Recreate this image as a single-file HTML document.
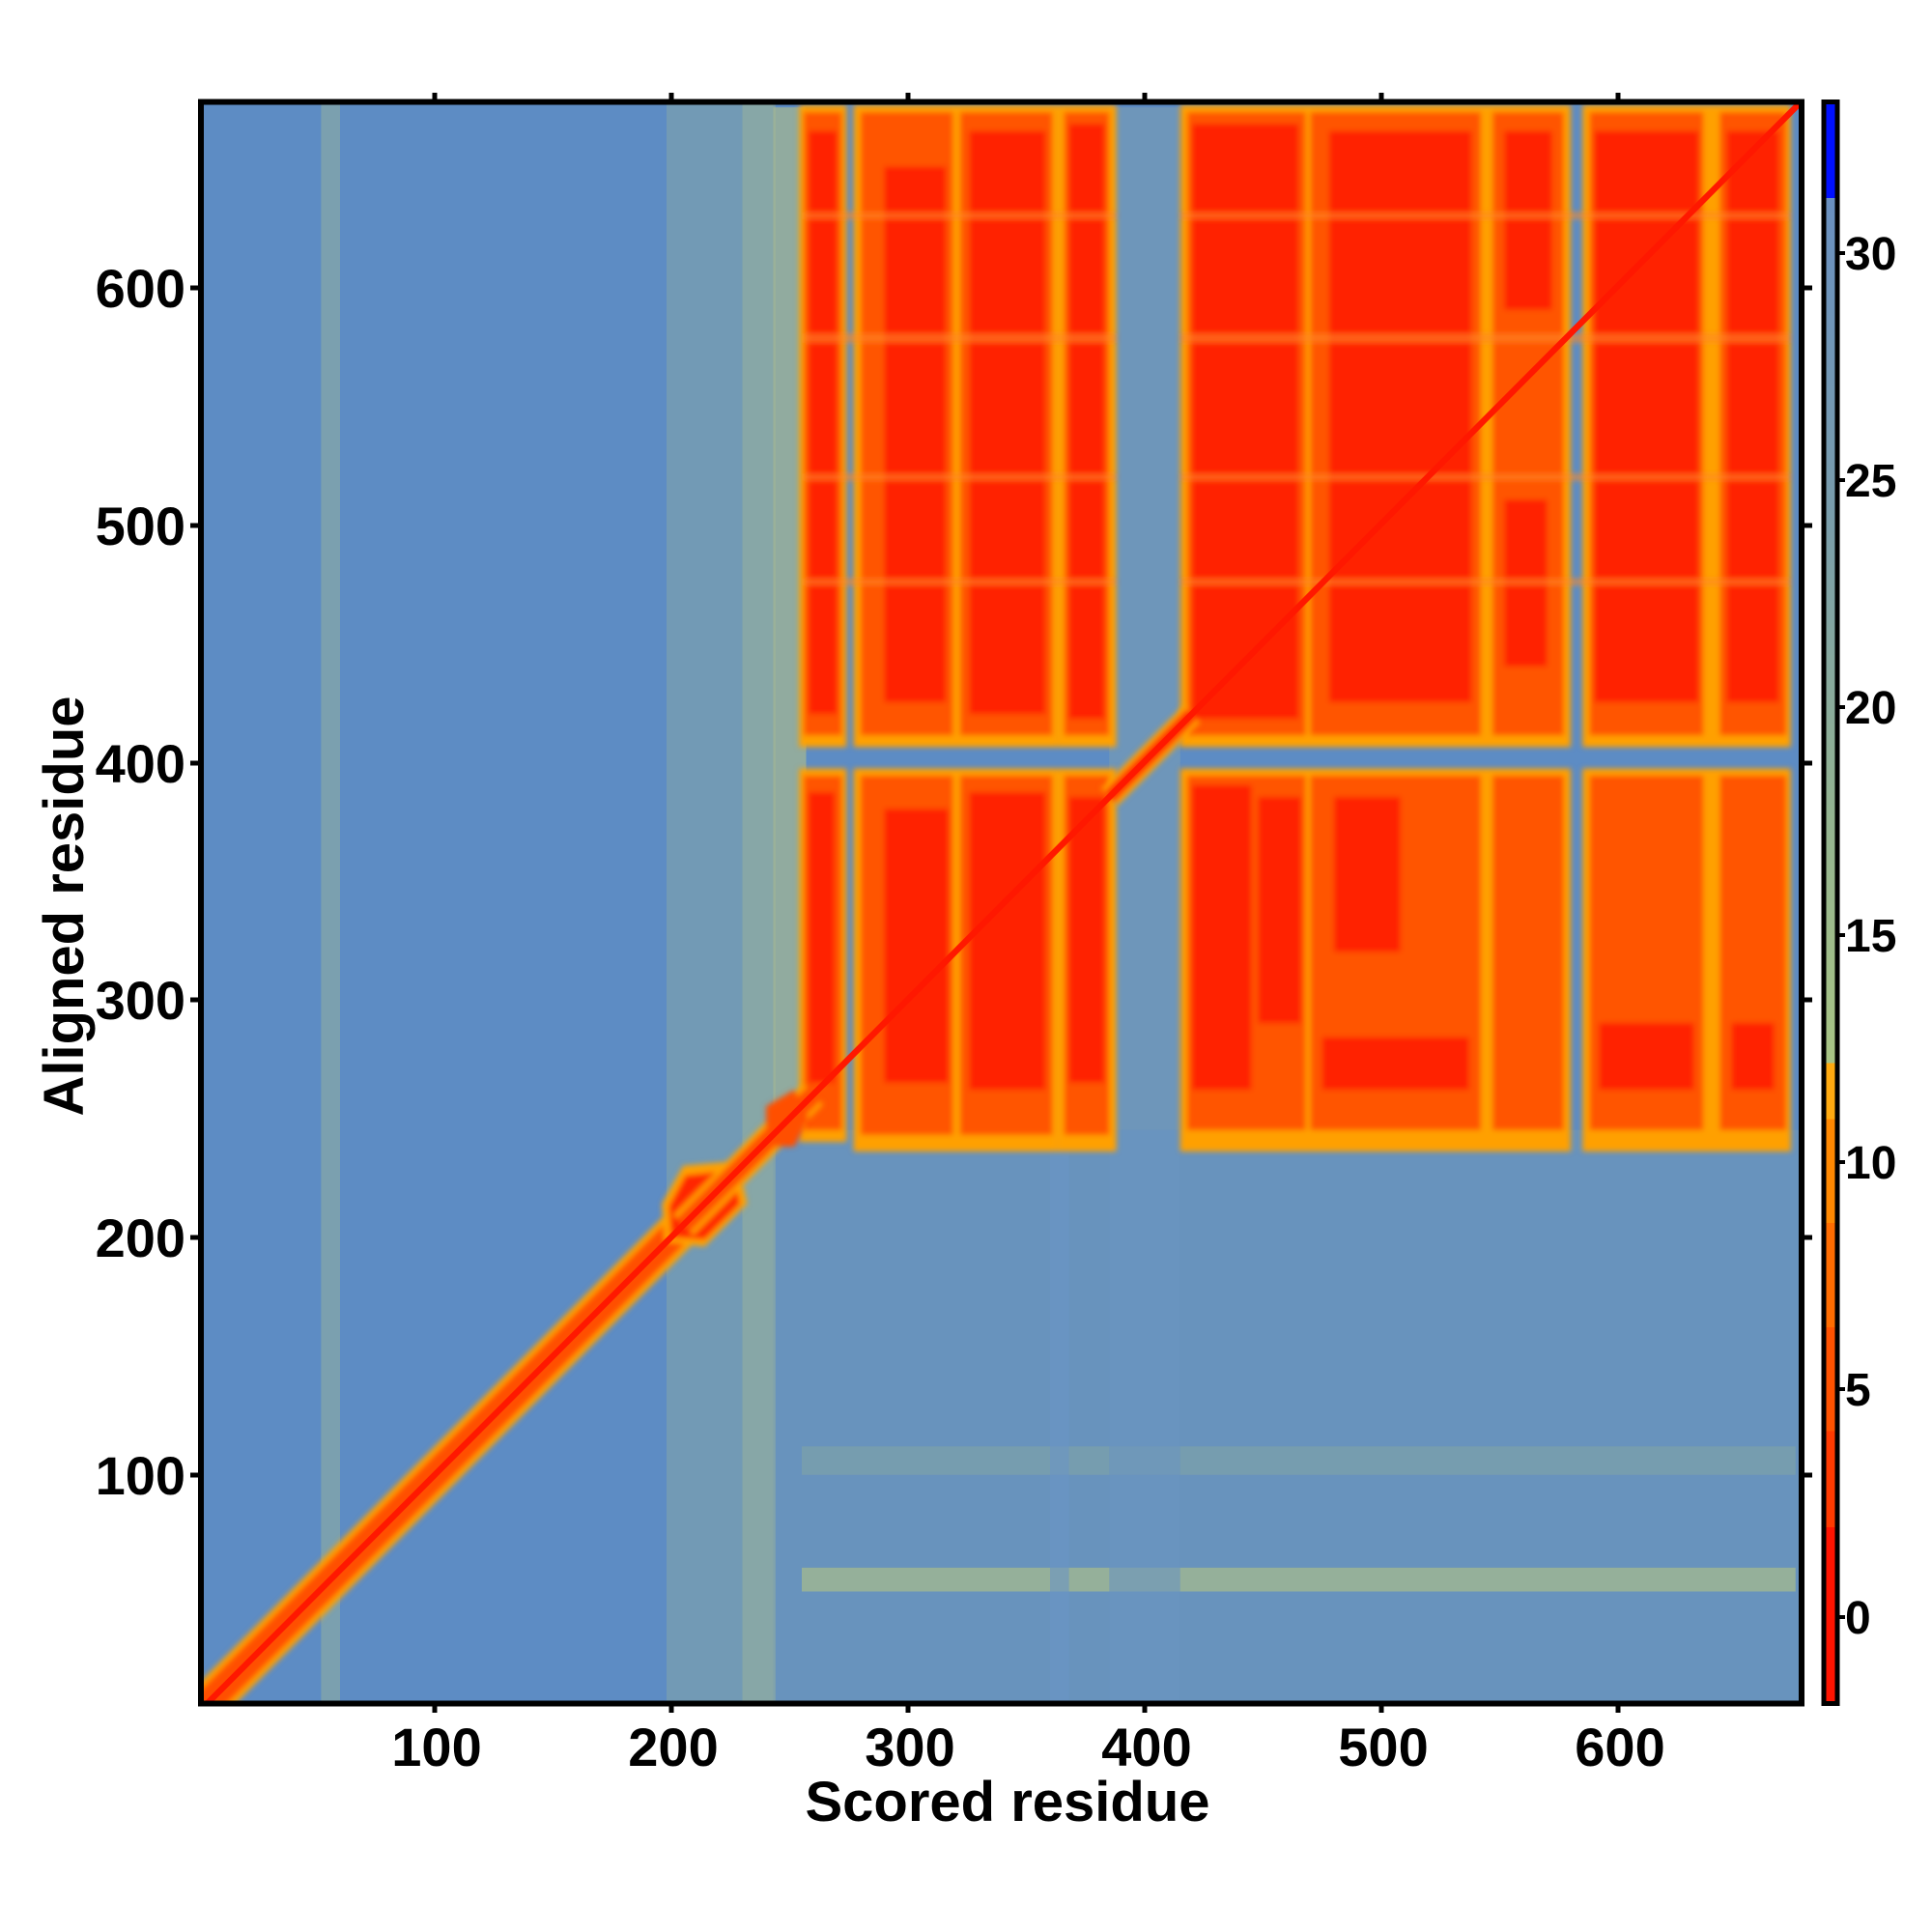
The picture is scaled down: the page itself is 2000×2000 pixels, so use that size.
<!DOCTYPE html>
<html><head><meta charset="utf-8"><style>
body{margin:0;background:#fff;}
svg{display:block;font-family:"Liberation Sans",sans-serif;font-weight:bold;}
</style></head><body>
<svg width="2000" height="2000" viewBox="0 0 2000 2000" xmlns="http://www.w3.org/2000/svg">
<defs>
<clipPath id="pc"><rect x="208" y="106" width="1657" height="1657"/></clipPath>
<linearGradient id="cb" x1="0" y1="1" x2="0" y2="0">
<stop offset="0" stop-color="#ff1400"/><stop offset="0.11" stop-color="#ff1400"/>
<stop offset="0.11" stop-color="#ff3a00"/><stop offset="0.17" stop-color="#ff3a00"/>
<stop offset="0.17" stop-color="#ff5200"/><stop offset="0.235" stop-color="#ff5200"/>
<stop offset="0.235" stop-color="#ff6c00"/><stop offset="0.30" stop-color="#ff6c00"/>
<stop offset="0.30" stop-color="#ff8800"/><stop offset="0.365" stop-color="#ff8800"/>
<stop offset="0.365" stop-color="#ffaa10"/><stop offset="0.40" stop-color="#ffaa10"/>
<stop offset="0.40" stop-color="#a8c484"/><stop offset="0.55" stop-color="#94b490"/>
<stop offset="0.75" stop-color="#789cac"/><stop offset="0.94" stop-color="#6a90c0"/>
<stop offset="0.94" stop-color="#0010ff"/><stop offset="1" stop-color="#0010ff"/>
</linearGradient>
<filter id="bl" x="-10%" y="-10%" width="120%" height="120%"><feGaussianBlur stdDeviation="1.2"/></filter>
</defs>

<g clip-path="url(#pc)">
<rect x="200" y="100" width="1670" height="1670" fill="#5d8cc4"/>
<g transform="translate(205,1773) scale(2.45,-2.462)">
 <g fill="#9ab49a" opacity="0.5">
  <rect x="52" y="0" width="8" height="680"/>
  <rect x="198" y="0" width="45" height="680" opacity="0.7"/>
  <rect x="243" y="0" width="440" height="245" fill="#7c9eb4" opacity="0.8"/>
 </g>
 <rect x="230" y="0" width="14" height="680" fill="#9cb49a" opacity="0.5"/>
 <rect x="243" y="245" width="14" height="430" fill="#a8b890" opacity="0.7"/>
 <rect x="255" y="51" width="420" height="10" fill="#a8bc8c" opacity="0.7"/>
 <rect x="255" y="100" width="420" height="12" fill="#8cac9c" opacity="0.4"/>
 <rect x="385" y="0" width="30" height="245" fill="#6a94c0" opacity="0.6"/>
 <rect x="360" y="0" width="8" height="245" fill="#6a94c4" opacity="0.6"/>
 <rect x="385" y="245" width="30" height="430" fill="#80a0b0" opacity="0.5"/>

 <g filter="url(#bl)">
  <g fill="#ffa000">
   <rect x="254" y="406" width="20" height="270"/><rect x="254" y="240" width="20" height="157"/>
   <rect x="277" y="406" width="86" height="270"/><rect x="277" y="236" width="86" height="161"/>
   <rect x="363" y="406" width="25" height="270"/><rect x="363" y="236" width="25" height="161"/>
   <rect x="415" y="406" width="165" height="270"/><rect x="415" y="236" width="165" height="161"/>
   <rect x="585" y="406" width="88" height="270"/><rect x="585" y="236" width="88" height="161"/>
  </g>
  <g fill="#ff5400">
   <rect x="256" y="411" width="16" height="262"/><rect x="256" y="245" width="16" height="149"/>
   <rect x="280" y="411" width="39" height="262"/><rect x="280" y="243" width="39" height="151"/>
   <rect x="322" y="411" width="39" height="262"/><rect x="322" y="243" width="39" height="151"/>
   <rect x="366" y="411" width="19" height="262"/><rect x="366" y="243" width="19" height="151"/>
   <rect x="418" y="411" width="50" height="262"/><rect x="418" y="245" width="50" height="149"/>
   <rect x="470" y="411" width="72" height="262"/><rect x="470" y="245" width="72" height="149"/>
   <rect x="547" y="411" width="30" height="262"/><rect x="547" y="245" width="30" height="149"/>
   <rect x="588" y="411" width="48" height="262"/><rect x="588" y="245" width="48" height="149"/>
   <rect x="643" y="411" width="28" height="262"/><rect x="643" y="245" width="28" height="149"/>
  </g>
  <g fill="#ff2200">
   <rect x="258" y="420" width="12" height="245"/><rect x="258" y="265" width="11" height="122"/>
   <rect x="290" y="425" width="26" height="225"/><rect x="290" y="265" width="27" height="115"/>
   <rect x="326" y="420" width="32" height="245"/>
   <rect x="326" y="262" width="32" height="125"/>
   <rect x="368" y="418" width="15" height="250"/><rect x="368" y="265" width="15" height="120"/>
   <rect x="420" y="418" width="45" height="250"/>
   <rect x="420" y="262" width="25" height="128"/><rect x="448" y="290" width="18" height="95"/>
   <rect x="478" y="425" width="60" height="240"/>
   <rect x="475" y="262" width="62" height="22"/><rect x="480" y="320" width="28" height="65"/>
   <rect x="552" y="590" width="20" height="75"/><rect x="552" y="440" width="18" height="70"/>
   <rect x="590" y="425" width="44" height="240"/>
   <rect x="592" y="262" width="40" height="28"/>
   <rect x="646" y="425" width="22" height="240"/><rect x="648" y="262" width="18" height="28"/>
  </g>
  <g fill="#ff8a20" opacity="0.6">
   <rect x="256" y="474" width="132" height="3"/><rect x="415" y="474" width="258" height="3"/>
   <rect x="256" y="518" width="132" height="3"/><rect x="415" y="518" width="258" height="3"/>
   <rect x="256" y="576" width="132" height="4"/><rect x="415" y="576" width="258" height="4"/>
   <rect x="256" y="628" width="132" height="3"/><rect x="415" y="628" width="258" height="3"/>
  </g>
 </g>

 <g filter="url(#bl)">
  <line x1="0" y1="0" x2="205" y2="205" stroke="#ffa000" stroke-width="17"/>
  <line x1="0" y1="0" x2="205" y2="205" stroke="#ff5000" stroke-width="12"/>
  <polygon points="197,198 214,196 232,214 228,232 205,230 196,214" fill="#ffa000"/>
  <polygon points="200,200 214,199 229,214 226,228 206,226 199,213" fill="#ff2800"/>
  <line x1="205" y1="205" x2="260" y2="260" stroke="#ffa000" stroke-width="12"/>
  <line x1="205" y1="205" x2="260" y2="260" stroke="#ff5000" stroke-width="8"/>
  <polygon points="240,238 252,238 258,250 252,262 240,255" fill="#ff5000"/>
  <line x1="385" y1="385" x2="420" y2="420" stroke="#ffa000" stroke-width="10"/>
  <line x1="385" y1="385" x2="420" y2="420" stroke="#ff3000" stroke-width="6"/>
 </g>
 <line x1="0" y1="0" x2="680" y2="680" stroke="#ff1800" stroke-width="2.6"/>
</g>
</g>

<rect x="208" y="105.5" width="1657" height="1658" fill="none" stroke="#000" stroke-width="6"/>
<g stroke="#000" stroke-width="5">
 <line x1="450" y1="96" x2="450" y2="103"/><line x1="695" y1="96" x2="695" y2="103"/>
 <line x1="940" y1="96" x2="940" y2="103"/><line x1="1185" y1="96" x2="1185" y2="103"/>
 <line x1="1430" y1="96" x2="1430" y2="103"/><line x1="1675" y1="96" x2="1675" y2="103"/>
 <line x1="450" y1="1766" x2="450" y2="1773"/><line x1="695" y1="1766" x2="695" y2="1773"/>
 <line x1="940" y1="1766" x2="940" y2="1773"/><line x1="1185" y1="1766" x2="1185" y2="1773"/>
 <line x1="1430" y1="1766" x2="1430" y2="1773"/><line x1="1675" y1="1766" x2="1675" y2="1773"/>
 <line x1="197" y1="1527" x2="205" y2="1527"/><line x1="197" y1="1281" x2="205" y2="1281"/>
 <line x1="197" y1="1035" x2="205" y2="1035"/><line x1="197" y1="790" x2="205" y2="790"/>
 <line x1="197" y1="544" x2="205" y2="544"/><line x1="197" y1="298" x2="205" y2="298"/>
 <line x1="1868" y1="1527" x2="1876" y2="1527"/><line x1="1868" y1="1281" x2="1876" y2="1281"/>
 <line x1="1868" y1="1035" x2="1876" y2="1035"/><line x1="1868" y1="790" x2="1876" y2="790"/>
 <line x1="1868" y1="544" x2="1876" y2="544"/><line x1="1868" y1="298" x2="1876" y2="298"/>
</g>
<g font-size="56" fill="#000">
 <g text-anchor="end">
  <text x="192" y="1547">100</text><text x="192" y="1301">200</text>
  <text x="192" y="1055">300</text><text x="192" y="810">400</text>
  <text x="192" y="564">500</text><text x="192" y="318">600</text>
 </g>
 <g text-anchor="middle">
  <text x="452" y="1828">100</text><text x="697" y="1828">200</text>
  <text x="942" y="1828">300</text><text x="1187" y="1828">400</text>
  <text x="1432" y="1828">500</text><text x="1677" y="1828">600</text>
 </g>
 <text x="1043" y="1885" text-anchor="middle" font-size="58">Scored residue</text>
 <text transform="translate(86,938) rotate(-90)" text-anchor="middle" font-size="58">Aligned residue</text>
</g>

<rect x="1888" y="105.5" width="14" height="1658" fill="url(#cb)" stroke="#000" stroke-width="5"/>
<g stroke="#000" stroke-width="4">
 <line x1="1902" y1="262" x2="1910" y2="262"/><line x1="1902" y1="497" x2="1910" y2="497"/>
 <line x1="1902" y1="732" x2="1910" y2="732"/><line x1="1902" y1="968" x2="1910" y2="968"/>
 <line x1="1902" y1="1203" x2="1910" y2="1203"/><line x1="1902" y1="1438" x2="1910" y2="1438"/>
 <line x1="1902" y1="1674" x2="1910" y2="1674"/>
</g>
<g font-size="48" fill="#000">
 <text x="1910" y="279">30</text><text x="1910" y="514">25</text>
 <text x="1910" y="749">20</text><text x="1910" y="985">15</text>
 <text x="1910" y="1220">10</text><text x="1910" y="1455">5</text>
 <text x="1910" y="1691">0</text>
</g>
</svg>
</body></html>
